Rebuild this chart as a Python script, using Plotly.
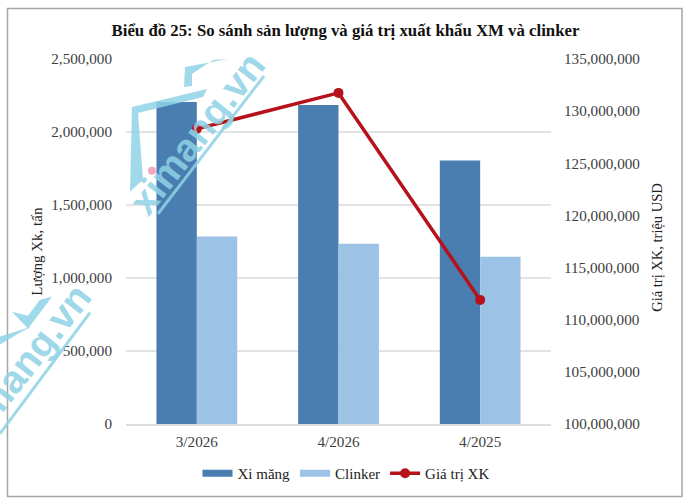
import plotly.graph_objects as go

categories = ["3/2026", "4/2026", "4/2025"]
xi_mang = [2205000, 2185000, 1805000]
clinker = [1285000, 1235000, 1145000]
gia_tri = [128300000, 131750000, 111900000]

W, H = 691, 502
L, R, T, B = 126, 551, 59, 424.5
FONT = "Liberation Serif"
WM = "#8fd3e6"
BLUE = "#4a7eb0"
LIGHT = "#9cc3e6"
RED = "#b5121b"


def px(x):
    return (x - L) / (R - L)


def py(y):
    return (B - y) / (B - T)


def path(points):
    return "M " + " L ".join(f"{px(x):.4f},{py(y):.4f}" for x, y in points) + " Z"


fig = go.Figure()
fig.add_trace(go.Bar(x=categories, y=xi_mang, name="Xi măng", marker_color=BLUE,
                     marker_line_width=0, showlegend=False))
fig.add_trace(go.Bar(x=categories, y=clinker, name="Clinker", marker_color=LIGHT,
                     marker_line_width=0, showlegend=False))
# legend entries with wide swatches
fig.add_trace(go.Scatter(x=[None], y=[None], name="Xi măng", mode="lines", line=dict(color=BLUE, width=7)))
fig.add_trace(go.Scatter(x=[None], y=[None], name="Clinker", mode="lines", line=dict(color=LIGHT, width=7)))
fig.add_trace(go.Scatter(
    x=categories, y=gia_tri, name="Giá trị XK", yaxis="y2",
    mode="lines+markers",
    line=dict(color=RED, width=3.5),
    marker=dict(color=RED, size=10),
))

# khung ngoai
shapes = [dict(type="rect", xref="paper", yref="paper", layer="below",
               x0=px(7.5), x1=px(682), y0=py(497), y1=py(8.5),
               line=dict(color="#a6a6a6", width=1.5), fillcolor="white")]

# logo watermark
for pts in [
    [(130, 192), (132, 107), (207, 89), (203, 97), (138, 113), (143, 180)],
    [(228, 59), (185, 67), (184, 87), (192, 86), (192, 74), (213, 60)],
    [(0, 337), (32, 327), (22, 332), (0, 345)],
    [(12, 312), (28, 329), (52, 297), (40, 300), (28, 316)],
]:
    shapes.append(dict(type="path", xref="paper", yref="paper", layer="above",
                       path=path(pts), fillcolor=WM, line_width=0, opacity=0.85))
for p0, p1 in [((158, 214), (264, 76)), ((0, 434), (90, 313))]:
    shapes.append(dict(type="line", xref="paper", yref="paper", layer="above",
                       x0=px(p0[0]), y0=py(p0[1]), x1=px(p1[0]), y1=py(p1[1]),
                       line=dict(color=WM, width=3), opacity=0.85))
shapes.append(dict(type="circle", xref="paper", yref="paper", layer="above",
                   x0=px(148), x1=px(156), y0=py(175), y1=py(167),
                   fillcolor="#f4a8c0", line_width=0))


def center_note(text, x, y, angle, font, opacity=1):
    return dict(text=text, x=px(x), y=py(y), xref="paper", yref="paper",
                xanchor="center", yanchor="middle", showarrow=False,
                textangle=angle, opacity=opacity, font=font)


wm_font = dict(family="Liberation Sans", size=39, color=WM)
annotations = [
    center_note("<b>ximang.vn</b>", 197, 134, -52, wm_font, 0.85),
    center_note("<b>ximang.vn</b>", 23, 366, -52, wm_font, 0.85),
    center_note("Lượng Xk, tấn", 37, 252, -90, dict(family=FONT, size=15, color="#222222")),
    center_note("Giá trị XK, triệu USD", 657, 248, -90, dict(family=FONT, size=14.5, color="#222222")),
]

fig.update_layout(
    width=W, height=H,
    margin=dict(l=L, r=W - R, t=T, b=H - B, pad=0),
    paper_bgcolor="white", plot_bgcolor="rgba(0,0,0,0)",
    title=dict(text="<b>Biểu đồ 25: So sánh sản lượng và giá trị xuất khẩu XM và clinker</b>",
               x=0.5, xanchor="center", y=1 - 30 / H, yanchor="middle",
               font=dict(family=FONT, size=16.8, color="#111111")),
    font=dict(family=FONT, size=15.2, color="#404040"),
    barmode="group", bargap=0.43, bargroupgap=0,
    xaxis=dict(showgrid=False, showline=True, linecolor="#dedede", linewidth=1.5, ticks="",
               ticklabelstandoff=3),
    yaxis=dict(range=[0, 2500000], dtick=500000, tickformat=",d", gridcolor="#e3e3e3",
               gridwidth=1.5, zeroline=False, ticks="", ticklabelstandoff=13),
    yaxis2=dict(range=[100000000, 135000000], dtick=5000000, tickformat=",d", overlaying="y",
                side="right", showgrid=False, zeroline=False, ticks="", ticklabelstandoff=12),
    legend=dict(orientation="h", x=px(346), xanchor="center", y=py(474), yanchor="middle",
                font=dict(family=FONT, size=15, color="#222222"), itemwidth=30),
    shapes=shapes,
    annotations=annotations,
)

fig.write_html("out.html", config=dict(displayModeBar=False),
               post_script="document.body.style.margin='0'")
